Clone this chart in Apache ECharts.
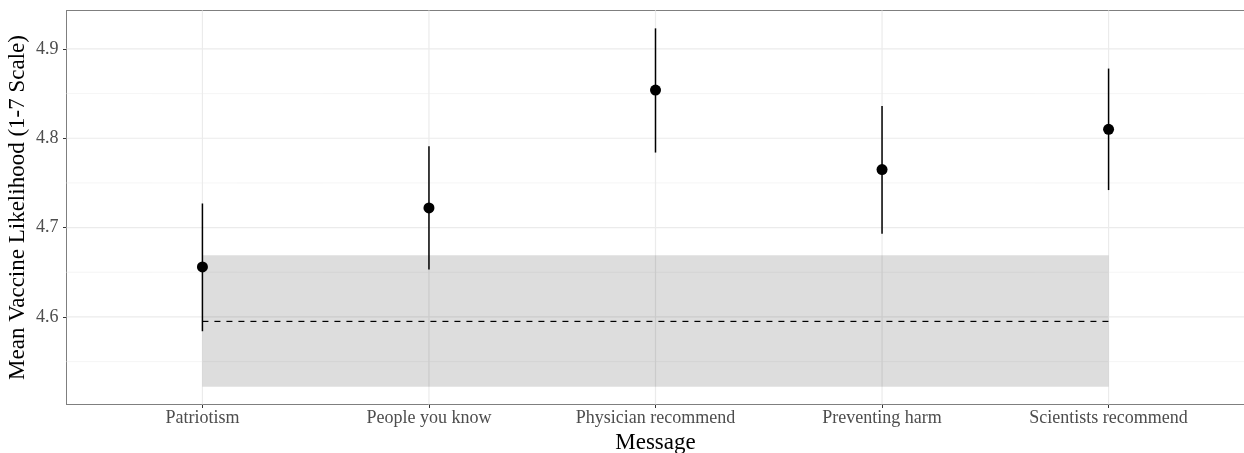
<!DOCTYPE html>
<html>
<head>
<meta charset="utf-8">
<script src="https://cdn.jsdelivr.net/npm/echarts@6/dist/echarts.min.js"></script>
<style>html,body{margin:0;padding:0;background:#fff}#c{width:1244px;height:453px}</style>
</head>
<body>
<div id="c"></div>
<script>
const categories = ['Patriotism', 'People you know', 'Physician recommend', 'Preventing harm', 'Scientists recommend'];
const means = [4.656, 4.722, 4.854, 4.765, 4.810];
const lower = [4.584, 4.653, 4.784, 4.693, 4.742];
const upper = [4.727, 4.791, 4.923, 4.836, 4.878];
const controlMean = 4.595;
const controlLower = 4.522;
const controlUpper = 4.669;
const yMajorTicks = [4.6, 4.7, 4.8, 4.9];
const yMinorTicks = [4.55, 4.65, 4.75, 4.85];
const xPositions = [1, 2, 3, 4, 5];

const FONT = 'Liberation Serif';

const gridData = [];
yMinorTicks.forEach(v => gridData.push([1, v, 0]));
yMajorTicks.forEach(v => gridData.push([1, v, 1]));
xPositions.forEach(v => gridData.push([v, 4.6, 2]));

const chart = echarts.init(document.getElementById('c'), null, {renderer: 'canvas'});
chart.setOption({
  animation: false,
  backgroundColor: '#ffffff',
  grid: {left: 66.5, right: -0.5, top: 10.5, bottom: 48.5, containLabel: false, outerBoundsMode: 'none',
    show: true, borderColor: '#7f7f7f', borderWidth: 1, backgroundColor: 'transparent'},
  xAxis: {
    type: 'value', min: 0.4, max: 5.6,
    name: 'Message', nameLocation: 'middle', nameGap: 27, nameMoveOverlap: false,
    nameTextStyle: {fontFamily: FONT, fontSize: 23, color: '#000'},
    axisLine: {show: true, lineStyle: {color: '#7f7f7f', width: 1}},
    axisTick: {show: true, customValues: xPositions, length: 3.5, lineStyle: {color: '#333', width: 1}},
    axisLabel: {customValues: xPositions, fontFamily: FONT, fontSize: 18, color: '#4d4d4d', margin: 5,
      formatter: v => categories[Math.round(v) - 1] || ''},
    splitLine: {show: false}
  },
  yAxis: {
    type: 'value', min: 4.502, max: 4.943,
    name: 'Mean Vaccine Likelihood (1-7 Scale)', nameLocation: 'middle', nameGap: 37, nameRotate: 90,
    nameMoveOverlap: false,
    nameTextStyle: {fontFamily: FONT, fontSize: 23, color: '#000'},
    axisLine: {show: true, lineStyle: {color: '#7f7f7f', width: 1}},
    axisTick: {show: true, customValues: yMajorTicks, length: 3.5, lineStyle: {color: '#333', width: 1}},
    axisLabel: {customValues: yMajorTicks, fontFamily: FONT, fontSize: 18, color: '#4d4d4d', margin: 8,
      formatter: v => v.toFixed(1)},
    splitLine: {show: false}
  },
  series: [
    {
      type: 'custom', z: 1, silent: true,
      data: gridData,
      renderItem: (params, api) => {
        const cs = params.coordSys;
        const kind = api.value(2);
        if (kind === 2) {
          const x = api.coord([api.value(0), api.value(1)])[0];
          return {type: 'line', shape: {x1: x, y1: cs.y, x2: x, y2: cs.y + cs.height},
            style: {stroke: '#ebebeb', lineWidth: 1.2}};
        }
        const y = api.coord([api.value(0), api.value(1)])[1];
        return {type: 'line', shape: {x1: cs.x, y1: y, x2: cs.x + cs.width, y2: y},
          style: {stroke: kind === 1 ? '#ebebeb' : '#f2f2f2', lineWidth: kind === 1 ? 1.2 : 0.8}};
      }
    },
    {
      type: 'custom', z: 2, silent: true,
      data: [[xPositions[0], controlLower, xPositions[xPositions.length - 1], controlUpper]],
      renderItem: (params, api) => {
        const p1 = api.coord([api.value(0), api.value(1)]);
        const p2 = api.coord([api.value(2), api.value(3)]);
        return {type: 'rect', shape: {x: p1[0], y: p2[1], width: p2[0] - p1[0], height: p1[1] - p2[1]},
          style: {fill: 'rgba(0,0,0,0.135)'}};
      }
    },
    {
      type: 'line', z: 3, silent: true, symbol: 'none',
      data: [[xPositions[0], controlMean], [xPositions[xPositions.length - 1], controlMean]],
      lineStyle: {color: '#000', width: 1.2, type: [6, 6]}
    },
    {
      type: 'custom', z: 4, silent: true,
      data: xPositions.map((x, i) => [x, lower[i], upper[i]]),
      renderItem: (params, api) => {
        const a = api.coord([api.value(0), api.value(1)]);
        const b = api.coord([api.value(0), api.value(2)]);
        return {type: 'line', shape: {x1: a[0], y1: a[1], x2: b[0], y2: b[1]},
          style: {stroke: '#000', lineWidth: 1.5}};
      }
    },
    {
      type: 'scatter', z: 5, silent: true,
      data: xPositions.map((x, i) => [x, means[i]]),
      symbol: 'circle', symbolSize: 11,
      itemStyle: {color: '#000', opacity: 1}
    }
  ]
});
</script>
</body>
</html>
